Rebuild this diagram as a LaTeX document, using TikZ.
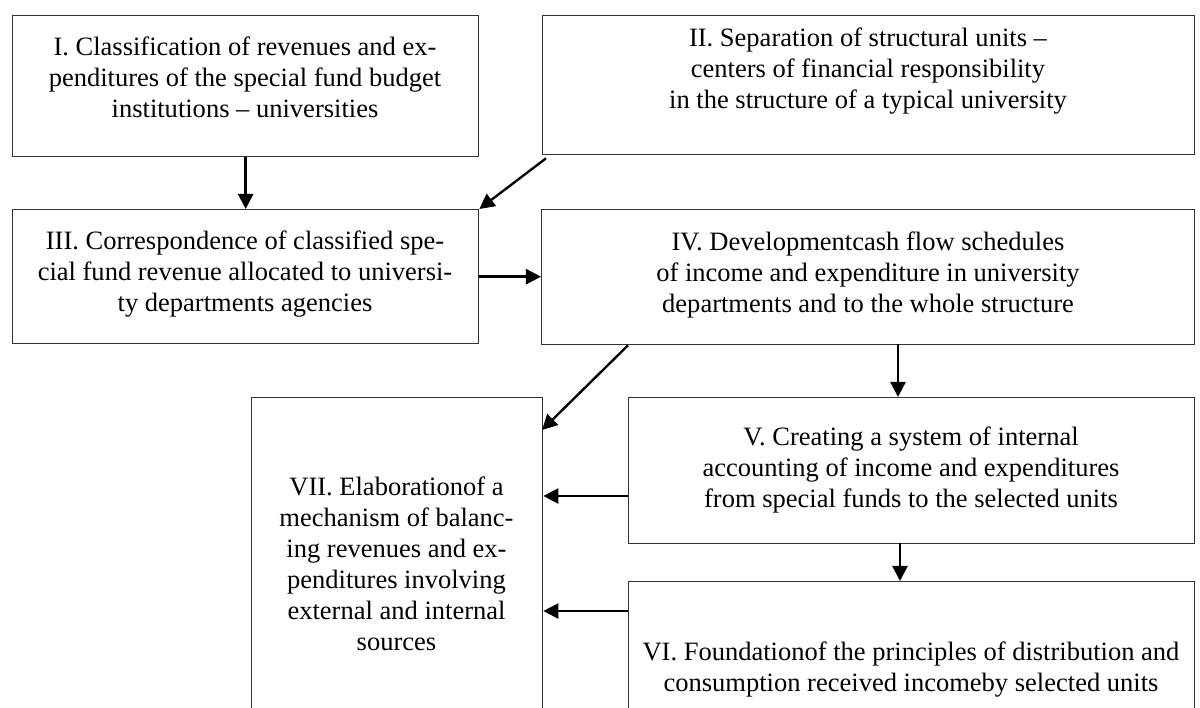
\documentclass[tikz,border=0pt]{standalone}
\usepackage{fontspec}
\setmainfont{Liberation Serif}
\usetikzlibrary{arrows.meta}
\tikzset{
  box/.style={draw=black!80, line width=0.7pt, rectangle, inner sep=0pt, anchor=north west},
  txt/.style={anchor=north, inner sep=0pt, align=center, font=\fontsize{14}{16.4}\selectfont},
  arr/.style={line width=1.25pt, -{Triangle[length=8pt,width=8pt]}},
}
\newcommand{\bx}[5]{% name, x1, y1, x2, y2
  \node[box, minimum width={(#4-#2)*0.528pt}, minimum height={(#5-#3)*0.528pt}] (#1) at (#2,#3) {};}
\begin{document}
\begin{tikzpicture}[x=0.528pt, y=-0.528pt]
\useasboundingbox (0,0) rectangle (1200,707);
\clip (0,0) rectangle (1200,707);
% boxes
\bx{b1}{12}{15}{478}{156}
\bx{b2}{542}{15}{1194}{154}
\bx{b3}{12}{209}{478}{343}
\bx{b4}{541}{209}{1194}{344}
\bx{b7}{251}{397}{542}{730}
\bx{b5}{628}{397}{1194}{543}
\bx{b6}{628}{581}{1194}{730}
% texts
\node[txt] (t1) at (245,33) {\strut I. Classification of revenues and ex-\\penditures of the special fund budget\\institutions -- universities};
\node[txt] (t2) at (868,24) {\strut II. Separation of structural units --\\centers of financial responsibility\\in the structure of a typical university};
\node[txt] (t3) at (245,227) {\strut III. Correspondence of classified spe-\\cial fund revenue allocated to universi-\\ty departments agencies};
\node[txt] (t4) at (868,228) {\strut IV. Developmentcash flow schedules\\of income and expenditure in university\\departments and to the whole structure};
\node[txt] (t5) at (911,423) {\strut V. Creating a system of internal\\accounting of income and expenditures\\from special funds to the selected units};
\node[txt] (t6) at (911,638) {\strut VI. Foundationof the principles of distribution and\\consumption received incomeby selected units};
\node[txt] (t7) at (396.5,473) {\strut VII. Elaborationof a\\mechanism of balanc-\\ing revenues and ex-\\penditures involving\\external and internal\\sources};
% connector end points
\coordinate (c45) at (898,344);
\coordinate (c56) at (900,543);
\coordinate (c47) at (542,430);
\coordinate (c57) at (628,496);
\coordinate (c67) at (628,611);
% connectors
\draw[arr] (b1.south) -- (b3.north);
\draw[arr] (b2.south west) ++(4,3) -- (b3.north east);
\draw[arr] (b3.east) -- (b3.east -| b4.west);
\draw[arr] (b4.south -| b5.west) -- (c47);
\draw[arr] (c45) -- (c45 |- b5.north);
\draw[arr] (c56) -- (c56 |- b6.north);
\draw[arr] (c57) -- (c57 -| b7.east);
\draw[arr] (c67) -- (c67 -| b7.east);
\end{tikzpicture}
\end{document}
